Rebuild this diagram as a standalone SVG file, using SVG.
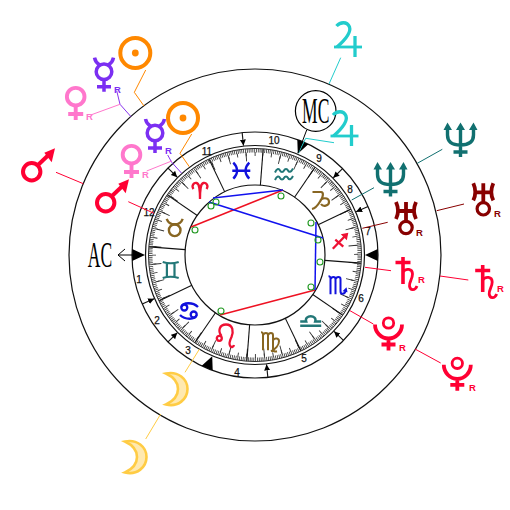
<svg xmlns="http://www.w3.org/2000/svg" width="510" height="510" viewBox="0 0 510 510">
<style>
.c{fill:none;stroke:#111;stroke-width:1.2}
.h{stroke:#111;stroke-width:1.1}
.n{font:10px "Liberation Sans",sans-serif;fill:#111;text-anchor:middle;stroke:#111;stroke-width:.25}
.r{font:bold 9.5px "Liberation Sans",sans-serif}
.l{fill:none;stroke-width:1}
.a{stroke-width:1.5;fill:none}
.o{fill:none;stroke:#229922;stroke-width:1.1}
.m{font-family:"Liberation Serif",serif;font-size:35px;text-anchor:middle;fill:#000}
.g{fill:none;stroke:currentColor}
.f{fill:currentColor;stroke:none}
</style>
<defs>
<marker id="ah" markerWidth="7" markerHeight="7" refX="6" refY="3" orient="auto" markerUnits="userSpaceOnUse"><path d="M0 0L6 3L0 6z" fill="#000"/></marker>
<g id="sun" class="g" stroke-width="4"><circle r="15"/><circle class="f" r="3.4"/></g>
<g id="mercury" class="g" stroke-width="3.5"><circle cy="-3" r="7.8"/><path d="M-9.5 -17Q-8.5 -12 -4.5 -10M9.5 -17Q8.5 -12 4.5 -10M0 5V17M-7 12H7"/></g>
<g id="venus" class="g" stroke-width="3.9"><circle cy="-6.3" r="8.8"/><path d="M0 3V17M-7.5 11H7.5"/></g>
<g id="mars" class="g" stroke-width="4"><circle cx="-6.3" cy="6.7" r="8.7"/><path d="M0 0L11 -10.5"/><path class="f" d="M17 -16.7L6.3 -12.3L13.7 -2.7z"/></g>
<g id="jupiter" class="g" stroke-width="3.3"><path d="M-11.5 -14C-8 -18 -1 -19 1.500 -13C3.500 -7 -3 0 -11 7"/><path d="M-14 7H14" stroke-width="2.8"/><path d="M7 -4V17"/></g>
<g id="neptune" class="g" stroke-width="3.4"><path d="M-13 -12V-5Q-13 5 0 5Q13 5 13 -5V-12M0 -12V17M-7 12H7"/><path class="f" d="M0 -17.5L-4.5 -10H4.5zM-13 -17.5L-17 -10H-8.5zM13 -17.5L8.5 -10H17z"/></g>
<g id="uranus" class="g" stroke-width="3.8"><path d="M-10 -16Q-6 -7 -10 1M10 -16Q6 -7 10 1M-8 -7H8M0 -16V3"/><circle cy="9.5" r="6.2" stroke-width="3.2"/></g>
<g id="saturn" class="g" stroke-width="3.6"><path d="M0 0V27M-7.500 5.500H7.500"/><path stroke-width="2.800" d="M0 15C3 11 9.500 11.500 9.500 17C9.500 22 6 25 6.500 29C7 33.500 12 34 14 29"/></g>
<g id="pluto" class="g" stroke-width="3.8"><circle cy="-10.5" r="5.2" stroke-width="2.8"/><path d="M-13.5 -9A13.5 14 0 0 0 13.5 -9M0 5V17M-7 11H7"/></g>
<g id="moon" class="g" stroke-width="2.6"><path fill="#ffe9b0" d="M-11 -15.5C1 -18 10.500 -10 10.500 0C10.500 10 1 18.500 -11 15.500C-3.500 12 1 7 1 0C1 -7 -3.500 -12 -11 -15.500z"/></g>
<g id="aries" class="g" stroke-width="2.3"><path d="M-6.5 -1.5C-9 -5 -6 -8 -3.5 -7.5C-1 -7 0 -3 0 8.5C0 -3 1 -7 3.5 -7.5C6 -8 9 -5 6.5 -1.5"/></g>
<g id="taurus" class="g" stroke-width="2.4"><circle cy="3" r="5.8"/><path d="M-8 -8.5Q-6 -3 0 -3Q6 -3 8 -8.5"/></g>
<g id="gemini" class="g" stroke-width="2.2"><path d="M-8 -8Q0 -5.5 8 -8M-8 8Q0 5.5 8 8M-3.8 -6.5V6.5M3.8 -6.5V6.5"/></g>
<g id="cancer" class="g" stroke-width="2.3"><circle cx="-4.7" cy="-3.5" r="3"/><circle cx="4.7" cy="3.5" r="3"/><path d="M-7.5 -4C-6 -9 4 -9 9 -4M7.5 4C6 9 -4 9 -9 4"/></g>
<g id="leo" class="g" stroke-width="2.3"><circle cx="-6.2" cy="2.3" r="2.5"/><path d="M-4 0C-8 -5 -6 -11.5 0.5 -11.5C8 -11.5 8 -4 6 1C4 5 3 8 5 10.5C6 11.5 8 11 8.5 9"/></g>
<g id="virgo" class="g" stroke-width="2"><path d="M-9 -9C-7 -9 -7 -8 -7 -6V9M-7 -6C-6 -9 -2 -9 -2 -6V9M-2 -6C-1 -9 3 -9 3 -6V8C3 10 5 10.5 7 10M3 -1C5 -4 9 -3 9 0C9 4 5 8 1 10"/></g>
<g id="libra" class="g" stroke-width="2.4"><path d="M-10.5 0.5H-4.5C-7 -6.5 7 -6.5 4.5 0.5H10.5M-10.5 4.7H10.5"/></g>
<g id="scorpio" class="g" stroke-width="2"><path d="M-9 -9C-7 -9 -7 -8 -7 -6V9M-7 -6C-6 -9 -2 -9 -2 -6V9M-2 -6C-1 -9 3 -9 3 -6V6C3 9 7 10 8.5 5"/><path class="f" d="M9 2L5 6L10 7z"/></g>
<g id="sagittarius" class="g" stroke-width="2.3"><path d="M-7.5 8L5 -5M-5 -1L3 6"/><path class="f" d="M8 -8L0.5 -6.5L6.5 -0.5z"/></g>
<g id="capricorn" class="g" stroke-width="2.2"><path d="M-8.5 -8H0C3 -8 2 -3 0 0C-2 3 -4 8 -9 9M-1 2C0 -3 8 -3 8 2C8 6 2 7 0 4"/></g>
<g id="aquarius" class="g" stroke-width="2"><path d="M-9 -2.5C-7 -7 -5 -6.500 -4 -4.500C-3 -2.500 -1 -2.500 0 -4.500C1 -6.500 3 -6.500 4 -4.500C5 -2.500 7 -2.500 9 -6.500M-9 5C-7 0.500 -5 1 -4 3C-3 5 -1 5 0 3C1 1 3 1 4 3C5 5 7 5 9 1"/></g>
<g id="pisces" class="g" stroke-width="2.4"><path d="M-8 -8C-3 -3 -3 3 -8 8M8 -8C3 -3 3 3 8 8M-9 0H9"/></g>
</defs>
<g id="wheel">
<circle class="c" cx="255" cy="255" r="186"/>
<circle class="c" cx="255" cy="255" r="123"/>
<circle class="c" cx="255" cy="255" r="109.500"/>
<circle class="c" cx="255" cy="255" r="106.500" style="stroke-width:.9"/>
<circle class="c" cx="255" cy="255" r="70"/>
<circle cx="255" cy="255" r="104.500" fill="none" stroke="#333" stroke-width="4" stroke-dasharray="0.8 1.0238" stroke-dashoffset="0.4" transform="rotate(-85.6 255 255)"/>
<circle cx="255" cy="255" r="101" fill="none" stroke="#333" stroke-width="4" stroke-dasharray="0.9 7.914" stroke-dashoffset="0.45" transform="rotate(-85.6 255 255)"/>
<circle cx="255" cy="255" r="98" fill="none" stroke="#333" stroke-width="8" stroke-dasharray="0.9 16.2" stroke-dashoffset="0.45" transform="rotate(-85.6 255 255)"/>
</g>
<g id="cusps">
<g class="h">
<line x1="325" y1="255" x2="361" y2="255" transform="rotate(-85.6 255 255)"/>
<line x1="325" y1="255" x2="361" y2="255" transform="rotate(-115.6 255 255)"/>
<line x1="325" y1="255" x2="361" y2="255" transform="rotate(-145.6 255 255)"/>
<line x1="325" y1="255" x2="361" y2="255" transform="rotate(-175.6 255 255)"/>
<line x1="325" y1="255" x2="361" y2="255" transform="rotate(-205.6 255 255)"/>
<line x1="325" y1="255" x2="361" y2="255" transform="rotate(-235.6 255 255)"/>
<line x1="325" y1="255" x2="361" y2="255" transform="rotate(-265.6 255 255)"/>
<line x1="325" y1="255" x2="361" y2="255" transform="rotate(-295.6 255 255)"/>
<line x1="325" y1="255" x2="361" y2="255" transform="rotate(-325.6 255 255)"/>
<line x1="325" y1="255" x2="361" y2="255" transform="rotate(-355.6 255 255)"/>
<line x1="325" y1="255" x2="361" y2="255" transform="rotate(-25.6 255 255)"/>
<line x1="325" y1="255" x2="361" y2="255" transform="rotate(-55.6 255 255)"/>
<line x1="378" y1="255" x2="365" y2="255" marker-end="url(#ah)" transform="rotate(-23.2 255 255)"/>
<line x1="378" y1="255" x2="365" y2="255" marker-end="url(#ah)" transform="rotate(-44.6 255 255)"/>
<line x1="378" y1="255" x2="365" y2="255" marker-end="url(#ah)" transform="rotate(-96 255 255)"/>
<line x1="378" y1="255" x2="365" y2="255" marker-end="url(#ah)" transform="rotate(-135 255 255)"/>
<line x1="378" y1="255" x2="365" y2="255" marker-end="url(#ah)" transform="rotate(-203.5 255 255)"/>
<line x1="378" y1="255" x2="365" y2="255" marker-end="url(#ah)" transform="rotate(-225 255 255)"/>
<line x1="378" y1="255" x2="365" y2="255" marker-end="url(#ah)" transform="rotate(-276 255 255)"/>
<line x1="378" y1="255" x2="365" y2="255" marker-end="url(#ah)" transform="rotate(-316 255 255)"/>
</g>
<path d="M145 255L132.200 249V261zM365 255L377.800 249V261zM297.800 153.700L308.300 144.200L297.300 139.500zM212.200 356.300L201.700 365.800L212.700 370.500z" fill="#000"/>
</g>
<g id="house-numbers" class="n">
<text x="139" y="283">1</text><text x="157" y="324">2</text><text x="188" y="354">3</text><text x="237" y="375.500">4</text><text x="304" y="362">5</text><text x="361" y="302">6</text>
<text x="368" y="235">7</text><text x="350" y="193">8</text><text x="319" y="162">9</text><text x="274" y="144">10</text><text x="207" y="155">11</text><text x="149" y="216">12</text>
</g>
<g id="aspects" class="a">
<line x1="191" y1="227" x2="283" y2="190" stroke="#ee1122"/>
<line x1="220" y1="315" x2="315" y2="290" stroke="#ee1122"/>
<line x1="213" y1="198" x2="283" y2="190" stroke="#1111ee"/>
<line x1="209" y1="202" x2="323" y2="238" stroke="#1111ee"/>
<line x1="316" y1="222" x2="315" y2="290" stroke="#1111ee"/>
<circle class="o" cx="195" cy="230" r="3"/><circle class="o" cx="216" cy="202" r="3"/><circle class="o" cx="211" cy="206" r="3"/>
<circle class="o" cx="281" cy="196" r="3"/><circle class="o" cx="311" cy="223" r="3"/><circle class="o" cx="318" cy="240" r="3"/>
<circle class="o" cx="311" cy="287" r="3"/><circle class="o" cx="320" cy="262" r="3"/><circle class="o" cx="221" cy="311" r="3"/>
</g>
<g id="signs">
<g id="sign-aries" color="#ee1133"><use href="#aries" x="200" y="190.500"/></g>
<g id="sign-taurus" color="#886622"><use href="#taurus" x="174.700" y="227.300"/></g>
<g id="sign-gemini" color="#227777"><use href="#gemini" x="170.700" y="270"/></g>
<g id="sign-cancer" color="#1111dd"><use href="#cancer" x="189" y="311"/></g>
<g id="sign-leo" color="#ee1133"><use href="#leo" x="225.500" y="336"/></g>
<g id="sign-virgo" color="#886622"><use href="#virgo" x="270" y="341.300"/></g>
<g id="sign-libra" color="#227777"><use href="#libra" x="310.700" y="321"/></g>
<g id="sign-scorpio" color="#1111dd"><use href="#scorpio" x="337.500" y="285.300"/></g>
<g id="sign-sagittarius" color="#ee1133"><use href="#sagittarius" x="340.300" y="240.700"/></g>
<g id="sign-capricorn" color="#886622"><use href="#capricorn" x="321" y="200"/></g>
<g id="sign-aquarius" color="#227777"><use href="#aquarius" x="284" y="175"/></g>
<g id="sign-pisces" color="#1111dd"><use href="#pisces" x="241.300" y="170.700"/></g>
</g>
<g id="connectors" class="l">
<path stroke="#ff8800" d="M145.700 70L134.300 92.300L144 106M191.700 134L180 153.300L189.300 166.700"/>
<path stroke="#8833ee" d="M116.700 90.700L120 104.300L131 116.700M167.700 155L171.700 162.300L181.700 173.300"/>
<path stroke="#ff77cc" d="M90.700 115L120 104.300M146.700 171L171.700 161"/>
<path stroke="#ff0033" d="M56 172.300L83.300 183.700M128.300 201.700L154 213.300M468.300 280L440 276M391 270.700L365 267.300M440.700 363L415 349M373.300 324L350 310.700"/>
<path stroke="#22cccc" d="M340.700 57.700L329 84M334 142.700L305.700 138.300L298.300 153.300"/>
<path stroke="#117070" d="M442.300 149.300L417.300 163.300M374 187.700L351.700 200"/>
<path stroke="#880000" d="M464 204L436.700 210.700M387.700 222.300L362.300 228.300"/>
<path stroke="#ffcc44" d="M145.700 439L160.700 414M185 372.300L199.300 349.300"/>
</g>
<g id="ac"><path d="M133 255H118M125 249L118 255L125 261" fill="none" stroke="#000"/>
<text class="m" transform="translate(100 267) scale(.5 1)">AC</text></g>
<g id="mc"><line x1="306.700" y1="130" x2="298" y2="153" stroke="#000"/><circle cx="315.700" cy="111" r="20.300" fill="#fff" stroke="#000" stroke-width="1.2"/>
<text class="m" transform="translate(315.700 122.500) scale(.5 1)">MC</text></g>
<g id="sun-outer" color="#ff8800"><use href="#sun" x="135.300" y="53"/></g>
<g id="sun-inner" color="#ff8800"><use href="#sun" x="183" y="118"/></g>
<g id="mercury-outer" color="#7b2ff2"><use href="#mercury" x="104" y="74.700"/><text class="r" x="114" y="93" fill="#7b2ff2">R</text></g>
<g id="mercury-inner" color="#7b2ff2"><use href="#mercury" x="155" y="136"/><text class="r" x="165" y="154" fill="#7b2ff2">R</text></g>
<g id="venus-outer" color="#ff77cc"><use href="#venus" x="75.700" y="103"/><text class="r" x="86" y="120" fill="#ff77cc">R</text></g>
<g id="venus-inner" color="#ff77cc"><use href="#venus" x="131.500" y="161"/><text class="r" x="142" y="178" fill="#ff77cc">R</text></g>
<g id="mars-outer" color="#ff0033"><use href="#mars" x="38" y="165"/></g>
<g id="mars-inner" color="#ff0033"><use href="#mars" x="112" y="196"/></g>
<g id="jupiter-outer" color="#22cccc"><use href="#jupiter" x="348" y="40"/></g>
<g id="jupiter-inner" color="#22cccc"><use href="#jupiter" x="344.500" y="129"/></g>
<g id="neptune-outer" color="#117070"><use href="#neptune" x="460.500" y="140"/></g>
<g id="neptune-inner" color="#117070"><use href="#neptune" x="390.500" y="179.500"/></g>
<g id="uranus-outer" color="#880000"><use href="#uranus" x="483.300" y="199.300"/><text class="r" x="494" y="217" fill="#880000">R</text></g>
<g id="uranus-inner" color="#880000"><use href="#uranus" x="406" y="218"/><text class="r" x="416" y="236" fill="#880000">R</text></g>
<g id="saturn-outer" color="#ff0033"><use href="#saturn" x="482.700" y="265"/><text class="r" x="497" y="291.500" fill="#ff0033">R</text></g>
<g id="saturn-inner" color="#ff0033"><use href="#saturn" x="403" y="257"/><text class="r" x="418" y="283" fill="#ff0033">R</text></g>
<g id="pluto-outer" color="#ff0033"><use href="#pluto" x="457.300" y="373.800"/><text class="r" x="469" y="391" fill="#ff0033">R</text></g>
<g id="pluto-inner" color="#ff0033"><use href="#pluto" x="388.500" y="333.500"/><text class="r" x="399" y="351" fill="#ff0033">R</text></g>
<g id="moon-outer" color="#ffcc44"><use href="#moon" x="136" y="457"/></g>
<g id="moon-inner" color="#ffcc44"><use href="#moon" x="177" y="389"/></g>
</svg>
